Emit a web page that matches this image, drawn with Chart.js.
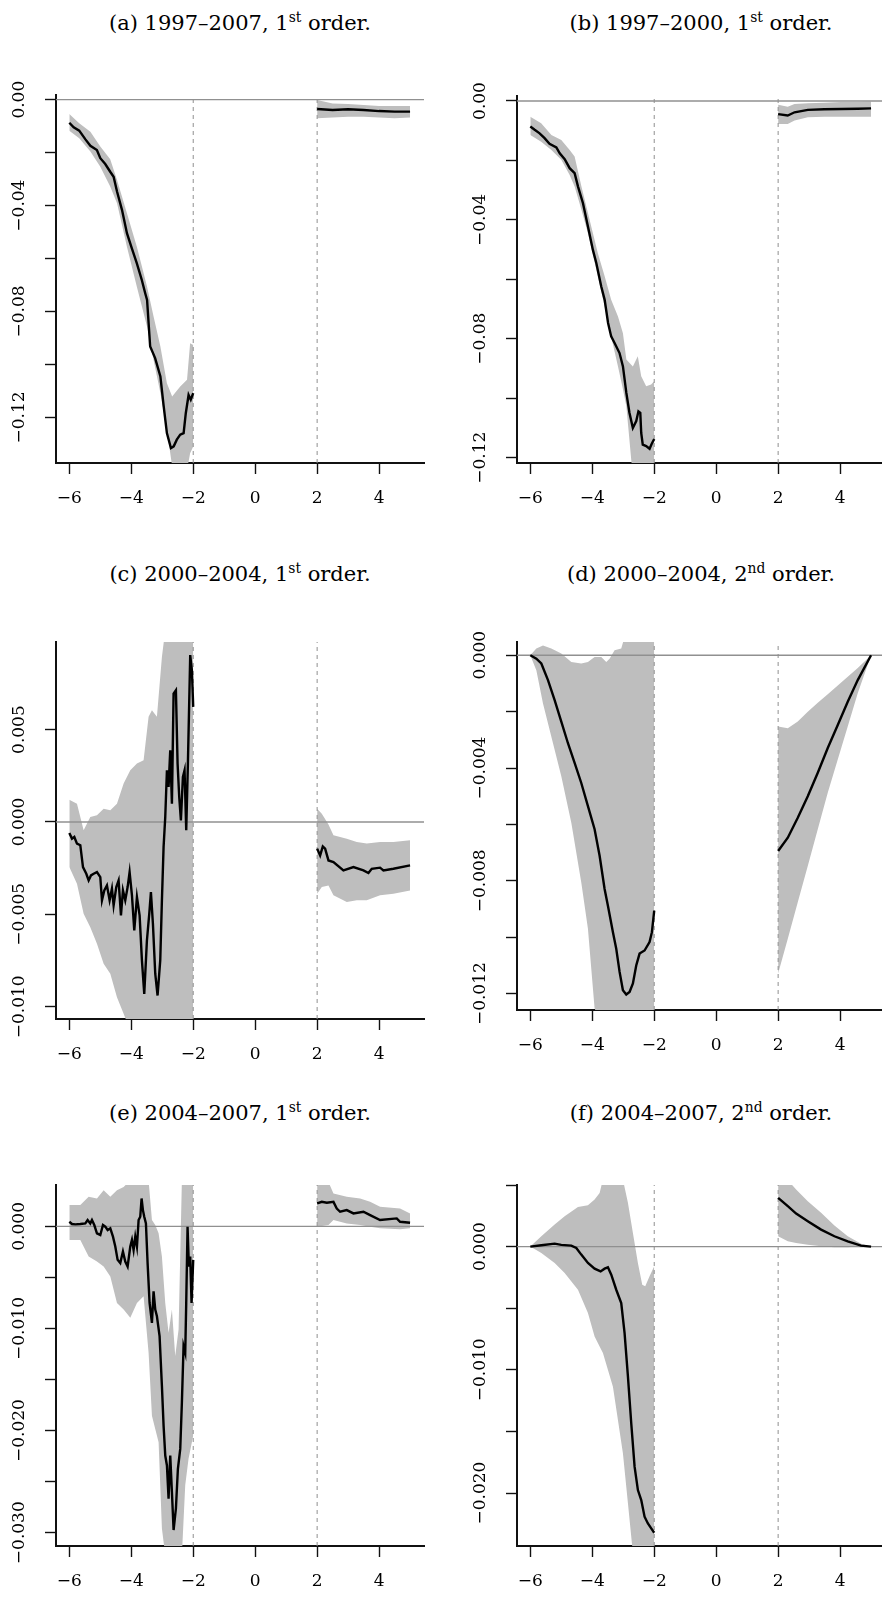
<!DOCTYPE html>
<html><head><meta charset="utf-8">
<script src="https://cdn.jsdelivr.net/npm/chart.js@4.4.1/dist/chart.umd.min.js"></script>
<style>
html,body{margin:0;padding:0;background:#fff;width:882px;height:1603px;overflow:hidden;position:relative;}
.t{position:absolute;font-family:"DejaVu Serif",serif;font-size:21px;line-height:21px;text-align:center;color:#000;white-space:nowrap;}
.t sup{font-size:0.66em;line-height:0;vertical-align:0.55em;}
canvas{position:absolute;}
</style></head><body>
<script>
// ---------- axis / tick constants ----------
const X_MIN = -6.43, X_MAX = 5.45;
const xTickVals = [-6, -4, -2, 0, 2, 4];
const cutoffs = [-2, 2];
const zeroLevel = 0;

// ---------- panel (a) 1997-2007, 1st order ----------
const aLineLx = [-6.00,-5.86,-5.68,-5.48,-5.32,-5.11,-5.00,-4.84,-4.68,-4.57,-4.46,-4.30,-4.14,-4.00,-3.82,-3.66,-3.55,-3.49,-3.39,-3.23,-3.06,-2.96,-2.85,-2.72,-2.63,-2.53,-2.42,-2.31,-2.24,-2.15,-2.08,-2.00];
const aLineLy = [-0.0087,-0.0104,-0.0117,-0.0150,-0.0174,-0.0190,-0.0221,-0.0243,-0.0272,-0.0291,-0.0347,-0.0416,-0.0504,-0.0555,-0.0618,-0.0681,-0.0731,-0.0756,-0.0932,-0.0976,-0.1045,-0.1152,-0.1259,-0.1316,-0.1309,-0.1284,-0.1265,-0.1259,-0.1184,-0.1115,-0.1133,-0.1108];
const aBandLx = [-6.00,-5.68,-5.32,-5.00,-4.68,-4.46,-4.14,-3.82,-3.49,-3.28,-3.06,-2.85,-2.68,-2.42,-2.20,-2.10,-2.00];
const aBandLup = [-0.0054,-0.0089,-0.0121,-0.0177,-0.0225,-0.0303,-0.0429,-0.0555,-0.0706,-0.0819,-0.0932,-0.1071,-0.1121,-0.1083,-0.1058,-0.0920,-0.0926];
const aBandLlo = [-0.0117,-0.0146,-0.0196,-0.0253,-0.0328,-0.0391,-0.0555,-0.0706,-0.0857,-0.0983,-0.1108,-0.1247,-0.1385,-0.1410,-0.1398,-0.1335,-0.1310];
const aLineRx = [2.0,2.5,3.0,3.5,4.0,4.5,5.0];
const aLineRy = [-0.0035,-0.0039,-0.0036,-0.0039,-0.0043,-0.0045,-0.0045];
const aBandRx = [2.0,2.5,3.0,3.5,4.0,4.5,5.0];
const aBandRup = [-0.0001,-0.0014,-0.0016,-0.0020,-0.0024,-0.0024,-0.0024];
const aBandRlo = [-0.0070,-0.0067,-0.0064,-0.0064,-0.0067,-0.0070,-0.0067];
const aYTicks = [0,-0.02,-0.04,-0.06,-0.08,-0.10,-0.12];
const aYLabels = [0,-0.04,-0.08,-0.12];

// ---------- panel (b) 1997-2000, 1st order ----------
const bLineLx = [-6.00,-5.86,-5.70,-5.54,-5.38,-5.16,-5.05,-4.89,-4.73,-4.57,-4.46,-4.30,-4.14,-3.98,-3.87,-3.71,-3.60,-3.49,-3.39,-3.28,-3.12,-3.01,-2.90,-2.80,-2.69,-2.58,-2.51,-2.45,-2.42,-2.37,-2.26,-2.15,-2.08,-2.00];
const bLineLy = [-0.0086,-0.0097,-0.0109,-0.0125,-0.0144,-0.0156,-0.0176,-0.0196,-0.0226,-0.0243,-0.0288,-0.0344,-0.0422,-0.0501,-0.0545,-0.0624,-0.0669,-0.0747,-0.0792,-0.0814,-0.0848,-0.0893,-0.0982,-0.1049,-0.1100,-0.1077,-0.1044,-0.1049,-0.1117,-0.1156,-0.1161,-0.1170,-0.1153,-0.1137];
const bBandLx = [-6.00,-5.65,-5.32,-5.00,-4.73,-4.57,-4.35,-4.14,-3.82,-3.60,-3.39,-3.17,-3.01,-2.90,-2.69,-2.53,-2.42,-2.26,-2.10,-2.00];
const bBandLup = [-0.0053,-0.0075,-0.0114,-0.0131,-0.0165,-0.0187,-0.0288,-0.0377,-0.0512,-0.0590,-0.0669,-0.0725,-0.0781,-0.0870,-0.0893,-0.0859,-0.0926,-0.0960,-0.0954,-0.0943];
const bBandLlo = [-0.0114,-0.0137,-0.0165,-0.0198,-0.0249,-0.0288,-0.0366,-0.0445,-0.0590,-0.0691,-0.0792,-0.0893,-0.0970,-0.1027,-0.1266,-0.1288,-0.1288,-0.1288,-0.1288,-0.1288];
const bLineRx = [2.00,2.31,2.53,2.96,3.49,4.03,4.57,5.00];
const bLineRy = [-0.0044,-0.0049,-0.0038,-0.0030,-0.0028,-0.0027,-0.0026,-0.0025];
const bBandRx = [2.00,2.31,2.53,2.96,3.49,4.03,4.57,5.00];
const bBandRup = [-0.0013,-0.0019,-0.0010,-0.0008,-0.0006,-0.0003,-0.0003,-0.0002];
const bBandRlo = [-0.0077,-0.0077,-0.0066,-0.0055,-0.0053,-0.0053,-0.0053,-0.0053];
const bYTicks = [0,-0.02,-0.04,-0.06,-0.08,-0.10,-0.12];
const bYLabels = [0,-0.04,-0.08,-0.12];

// ---------- panel (c) 2000-2004, 1st order ----------
const cLineLx = [-6.000,-5.914,-5.839,-5.753,-5.645,-5.559,-5.452,-5.376,-5.301,-5.215,-5.108,-5.000,-4.946,-4.871,-4.785,-4.699,-4.624,-4.570,-4.484,-4.409,-4.333,-4.269,-4.194,-4.118,-4.054,-3.978,-3.903,-3.817,-3.731,-3.656,-3.581,-3.495,-3.419,-3.366,-3.301,-3.226,-3.151,-3.065,-3.011,-2.957,-2.903,-2.849,-2.796,-2.742,-2.688,-2.634,-2.559,-2.505,-2.452,-2.398,-2.333,-2.280,-2.226,-2.172,-2.097,-2.043,-2.000];
const cLineLy = [-0.00060,-0.00090,-0.00081,-0.00117,-0.00126,-0.00244,-0.00280,-0.00316,-0.00289,-0.00280,-0.00271,-0.00298,-0.00424,-0.00370,-0.00343,-0.00424,-0.00361,-0.00451,-0.00352,-0.00316,-0.00505,-0.00370,-0.00424,-0.00352,-0.00271,-0.00397,-0.00587,-0.00406,-0.00505,-0.00749,-0.00930,-0.00641,-0.00496,-0.00379,-0.00551,-0.00821,-0.00939,-0.00749,-0.00424,-0.00135,0.00027,0.00280,0.00190,0.00388,0.00099,0.00695,0.00713,0.00316,0.00135,0.00009,0.00244,0.00280,-0.00045,0.00316,0.00903,0.00821,0.00623];
const cBandLx = [-6.000,-5.753,-5.538,-5.323,-5.108,-4.892,-4.677,-4.462,-4.247,-4.032,-3.817,-3.602,-3.441,-3.333,-3.172,-3.011,-2.903,-2.634,-2.312,-2.000];
const cBandLup = [0.00121,0.00099,-0.00045,0.00027,0.00036,0.00072,0.00063,0.00099,0.00208,0.00280,0.00316,0.00334,0.00569,0.00605,0.00569,0.00893,0.01038,0.01038,0.01038,0.01038];
const cBandLlo = [-0.00244,-0.00334,-0.00496,-0.00569,-0.00659,-0.00767,-0.00821,-0.00948,-0.01038,-0.01128,-0.01128,-0.01128,-0.01128,-0.01128,-0.01128,-0.01128,-0.01128,-0.01128,-0.01128,-0.01128];
const cLineRx = [2.000,2.097,2.183,2.258,2.366,2.527,2.849,3.172,3.495,3.656,3.763,4.032,4.140,4.462,5.000];
const cLineRy = [-0.00144,-0.00181,-0.00132,-0.00144,-0.00208,-0.00217,-0.00262,-0.00244,-0.00262,-0.00276,-0.00253,-0.00247,-0.00262,-0.00253,-0.00235];
const cBandRx = [2.000,2.151,2.366,2.527,2.957,3.280,3.602,4.032,4.462,5.000];
const cBandRup = [0.00072,0.00045,-0.00013,-0.00072,-0.00090,-0.00108,-0.00117,-0.00108,-0.00108,-0.00099];
const cBandRlo = [-0.00388,-0.00352,-0.00343,-0.00397,-0.00433,-0.00424,-0.00424,-0.00397,-0.00388,-0.00370];
const cYTicks = [0.005,0,-0.005,-0.010];
const cYLabels = [0.005,0,-0.005,-0.010];

// ---------- panel (d) 2000-2004, 2nd order ----------
const dLineLx = [-6.000,-5.806,-5.645,-5.430,-5.215,-5.000,-4.785,-4.570,-4.355,-4.140,-3.925,-3.763,-3.602,-3.495,-3.333,-3.226,-3.118,-3.011,-2.903,-2.796,-2.688,-2.581,-2.473,-2.312,-2.151,-2.075,-2.000];
const dLineLy = [0.0000,-0.00012,-0.00029,-0.00088,-0.00159,-0.00235,-0.00312,-0.00382,-0.00453,-0.00535,-0.00617,-0.00711,-0.00829,-0.00888,-0.00982,-0.01041,-0.01123,-0.01188,-0.01203,-0.01194,-0.01164,-0.01100,-0.01058,-0.01047,-0.01017,-0.00982,-0.00906];
const dBandLx = [-6.000,-5.806,-5.591,-5.323,-5.000,-4.677,-4.355,-4.140,-3.925,-3.710,-3.548,-3.441,-3.280,-3.065,-2.957,-2.634,-2.312,-2.000];
const dBandLup = [0,0.00024,0.00035,0.00024,0.00006,-0.00024,-0.00029,-0.00024,-0.00006,-0.00006,-0.00024,-0.00012,0.00018,0.00024,0.00065,0.00065,0.00065,0.00065];
const dBandLlo = [0,-0.00053,-0.00171,-0.00288,-0.00429,-0.00594,-0.00806,-0.00970,-0.01253,-0.0130,-0.0130,-0.0130,-0.0130,-0.0130,-0.0130,-0.0130,-0.0130,-0.0130];
const dLineRx = [2.000,2.312,2.634,2.957,3.280,3.602,3.925,4.247,4.570,5.000];
const dLineRy = [-0.00694,-0.00647,-0.00576,-0.00500,-0.00417,-0.00329,-0.00247,-0.00165,-0.00088,0];
const dBandRx = [2.000,2.312,2.634,2.957,3.280,3.602,3.925,4.247,4.570,5.000];
const dBandRup = [-0.00253,-0.00259,-0.00235,-0.00200,-0.00168,-0.00138,-0.00107,-0.00076,-0.00045,0];
const dBandRlo = [-0.01129,-0.01005,-0.00876,-0.00747,-0.00617,-0.00488,-0.00370,-0.00253,-0.00135,0];
const dYTicks = [0,-0.002,-0.004,-0.006,-0.008,-0.010,-0.012];
const dYLabels = [0,-0.004,-0.008,-0.012];

// ---------- panel (e) 2004-2007, 1st order ----------
const eLineLx = [-6.000,-5.914,-5.806,-5.645,-5.484,-5.409,-5.323,-5.269,-5.194,-5.108,-5.000,-4.914,-4.839,-4.763,-4.677,-4.591,-4.516,-4.441,-4.355,-4.269,-4.194,-4.118,-4.032,-3.978,-3.925,-3.871,-3.817,-3.763,-3.710,-3.667,-3.624,-3.581,-3.527,-3.473,-3.409,-3.333,-3.280,-3.226,-3.172,-3.086,-3.011,-2.957,-2.903,-2.849,-2.796,-2.742,-2.688,-2.634,-2.559,-2.495,-2.419,-2.366,-2.312,-2.258,-2.226,-2.183,-2.140,-2.097,-2.054,-2.000];
const eLineLy = [0.00045,0.00023,0.00019,0.00023,0.00029,0.00062,0.00029,0.00062,0.00013,-0.00068,-0.00084,0.00013,-0.00003,-0.00036,-0.00019,-0.00101,-0.00198,-0.00328,-0.00360,-0.00247,-0.00344,-0.00393,-0.00198,-0.00133,-0.00231,-0.00101,-0.00198,0.00062,0.00094,0.00273,0.00159,0.00094,0.00029,-0.00360,-0.00750,-0.00945,-0.00636,-0.00815,-0.00880,-0.01075,-0.01562,-0.01951,-0.02244,-0.02341,-0.02666,-0.02244,-0.02601,-0.02974,-0.02763,-0.02374,-0.02179,-0.01724,-0.01172,-0.01237,-0.00750,-0.00003,-0.00393,-0.00295,-0.00750,-0.00328];
const eBandLx = [-6.000,-5.645,-5.376,-5.108,-4.892,-4.677,-4.462,-4.247,-4.032,-3.817,-3.602,-3.441,-3.333,-3.226,-3.118,-3.011,-2.903,-2.796,-2.688,-2.581,-2.473,-2.366,-2.258,-2.151,-2.000];
const eBandLup = [0.00208,0.00208,0.00289,0.00273,0.00354,0.00289,0.00354,0.00386,0.0045,0.0045,0.0045,0.0045,0.00062,0.00013,-0.00068,-0.00295,-0.00750,-0.01042,-0.00815,-0.01270,-0.01010,0.0045,0.0045,0.0045,0.0045];
const eBandLlo = [-0.00133,-0.00133,-0.00295,-0.00344,-0.00393,-0.00490,-0.00750,-0.00815,-0.00896,-0.00750,-0.00685,-0.01237,-0.01854,-0.01984,-0.02114,-0.02958,-0.0322,-0.0322,-0.0322,-0.0322,-0.0322,-0.0322,-0.02536,-0.02276,-0.02049];
const eLineRx = [2.000,2.151,2.312,2.527,2.634,2.742,2.957,3.172,3.495,3.710,4.032,4.570,4.677,5.000];
const eLineRy = [0.00224,0.00240,0.00231,0.00240,0.00175,0.00143,0.00159,0.00127,0.00143,0.00110,0.00062,0.00078,0.00045,0.00036];
const eBandRx = [2.000,2.366,2.527,2.957,3.387,3.710,4.032,4.677,5.000];
const eBandRup = [0.00451,0.00435,0.00321,0.00289,0.00273,0.00240,0.00192,0.00175,0.00127];
const eBandRlo = [-0.00003,0.00013,0.00062,0.00029,0.00013,-0.00003,-0.00019,-0.00029,-0.00019];
const eYTicks = [0,-0.005,-0.010,-0.015,-0.020,-0.025,-0.030];
const eYLabels = [0,-0.010,-0.020,-0.030];

// ---------- panel (f) 2004-2007, 2nd order ----------
const fLineLx = [-6.000,-5.645,-5.215,-5.000,-4.677,-4.516,-4.355,-4.140,-3.925,-3.731,-3.602,-3.495,-3.387,-3.226,-3.065,-2.957,-2.849,-2.742,-2.634,-2.527,-2.419,-2.312,-2.204,-2.097,-2.000];
const fLineLy = [0,0.00011,0.00024,0.00014,0.00008,-0.00011,-0.00065,-0.00133,-0.00179,-0.00201,-0.00179,-0.00168,-0.00228,-0.00350,-0.00458,-0.00702,-0.01054,-0.01434,-0.01786,-0.01976,-0.02057,-0.02192,-0.02247,-0.02287,-0.02322];
const fBandLx = [-6.000,-5.645,-5.215,-4.892,-4.462,-4.140,-3.925,-3.763,-3.656,-3.333,-3.011,-2.849,-2.688,-2.527,-2.387,-2.290,-2.151,-2.000];
const fBandLup = [0,0.00084,0.00179,0.00247,0.00322,0.00336,0.00382,0.00436,0.00545,0.00545,0.00545,0.00355,0.00111,-0.00133,-0.00309,-0.00322,-0.00241,-0.00160];
const fBandLlo = [0,-0.00051,-0.00133,-0.00214,-0.00350,-0.00539,-0.00729,-0.00810,-0.00864,-0.01138,-0.01677,-0.02084,-0.02490,-0.02490,-0.02490,-0.02490,-0.02490,-0.02490];
const fLineRx = [2.000,2.312,2.581,2.957,3.387,3.817,4.247,4.677,5.000];
const fLineRy = [0.00396,0.00328,0.00268,0.00206,0.00138,0.00084,0.00043,0.00008,0];
const fBandRx = [2.000,2.312,2.581,2.957,3.387,3.817,4.247,4.677,5.000];
const fBandRup = [0.0054,0.0054,0.00463,0.00369,0.00274,0.00171,0.00084,0.00024,0];
const fBandRlo = [0.00084,0.00043,0.00030,0.00016,0.00003,-0.00005,-0.00005,0.00003,0];
const fYTicks = [0.005,0,-0.005,-0.010,-0.015,-0.020];
const fYLabels = [0,-0.010,-0.020];

// ---------- titles ----------
const titles = {
  a: '(a) 1997\u20132007, 1<sup>st</sup> order.',
  b: '(b) 1997\u20132000, 1<sup>st</sup> order.',
  c: '(c) 2000\u20132004, 1<sup>st</sup> order.',
  d: '(d) 2000\u20132004, 2<sup>nd</sup> order.',
  e: '(e) 2004\u20132007, 1<sup>st</sup> order.',
  f: '(f) 2004\u20132007, 2<sup>nd</sup> order.'
};

// ---------- panel layout (positions only) ----------
const panels = [
  {id:'a', col:0, top:95, bottom:463, titleY:23, yMin:-0.1372, yMax:0.00177, dec:2,
   L:[aLineLx,aLineLy], R:[aLineRx,aLineRy], BL:[aBandLx,aBandLup,aBandLlo], BR:[aBandRx,aBandRup,aBandRlo], yt:aYTicks, yl:aYLabels},
  {id:'b', col:1, top:96, bottom:463, titleY:23, yMin:-0.12179, yMax:0.00168, dec:2,
   L:[bLineLx,bLineLy], R:[bLineRx,bLineRy], BL:[bBandLx,bBandLup,bBandLlo], BR:[bBandRx,bBandRup,bBandRlo], yt:bYTicks, yl:bYLabels},
  {id:'c', col:0, top:642, bottom:1019, titleY:574, yMin:-0.01066, yMax:0.00974, dec:3,
   L:[cLineLx,cLineLy], R:[cLineRx,cLineRy], BL:[cBandLx,cBandLup,cBandLlo], BR:[cBandRx,cBandRup,cBandRlo], yt:cYTicks, yl:cYLabels},
  {id:'d', col:1, top:642, bottom:1010, titleY:574, yMin:-0.01258, yMax:0.00047, dec:3,
   L:[dLineLx,dLineLy], R:[dLineRx,dLineRy], BL:[dBandLx,dBandLup,dBandLlo], BR:[dBandRx,dBandRup,dBandRlo], yt:dYTicks, yl:dYLabels},
  {id:'e', col:0, top:1185, bottom:1546, titleY:1113, yMin:-0.0313, yMax:0.00405, dec:3,
   L:[eLineLx,eLineLy], R:[eLineRx,eLineRy], BL:[eBandLx,eBandLup,eBandLlo], BR:[eBandRx,eBandRup,eBandRlo], yt:eYTicks, yl:eYLabels},
  {id:'f', col:1, top:1185, bottom:1546, titleY:1113, yMin:-0.0243, yMax:0.005, dec:3,
   L:[fLineLx,fLineLy], R:[fLineRx,fLineRy], BL:[fBandLx,fBandLup,fBandLlo], BR:[fBandRx,fBandRup,fBandRlo], yt:fYTicks, yl:fYLabels}
];

const FONT = '17px "DejaVu Serif", serif';
const PAD_TOP = 40;
const fmt = (v, dec) => (v < 0 ? '\u2212' : '') + Math.abs(v).toFixed(dec);
const pts = (xs, ys) => xs.map((x, i) => ({x: x, y: ys[i]}));

const labelPlugin = {
  id: 'rLabels',
  afterDraw(chart) {
    const p = chart.config.options.plugins.rLabels;
    const ctx = chart.ctx, ys = chart.scales.y, xs = chart.scales.x, ca = chart.chartArea;
    ctx.save();
    ctx.fillStyle = '#000';
    ctx.font = FONT;
    ctx.textAlign = 'center';
    ctx.textBaseline = 'middle';
    xTickVals.forEach(v => {
      ctx.fillText(fmt(v, 0), xs.getPixelForValue(v), ca.bottom + 36);
    });
    p.yl.forEach(v => {
      ctx.save();
      ctx.translate(ca.left - 36, ys.getPixelForValue(v));
      ctx.rotate(-Math.PI / 2);
      ctx.fillText(fmt(v, p.dec), 0, 0);
      ctx.restore();
    });
    ctx.restore();
  }
};

panels.forEach(p => {
  const isR = p.col === 1;
  const colLeft = isR ? 441 : 0;
  const W = isR ? 444 : 441;
  const yW = isR ? 76 : 56;
  const padR = isR ? 0 : 17;
  const H = p.bottom - p.top + PAD_TOP + 60;

  const t = document.createElement('div');
  t.className = 't';
  t.style.left = (colLeft + yW) + 'px';
  t.style.width = (W - yW - padR) + 'px';
  t.style.top = (p.titleY - 10) + 'px';
  t.innerHTML = titles[p.id];
  document.body.appendChild(t);

  const cv = document.createElement('canvas');
  cv.width = W; cv.height = H;
  cv.style.left = colLeft + 'px';
  cv.style.top = (p.top - PAD_TOP) + 'px';
  cv.style.width = W + 'px'; cv.style.height = H + 'px';
  document.body.appendChild(cv);

  const lineDs = (d) => ({data: pts(d[0], d[1]), borderColor: '#000', borderWidth: 2.4, pointRadius: 0, fill: false, tension: 0});
  const refDs = (data, dash, w) => ({data: data, borderColor: '#909090', borderWidth: w, borderDash: dash, pointRadius: 0, fill: false, clip: false});
  const bandUp = (b) => ({data: pts(b[0], b[1]), borderWidth: 0, borderColor: 'rgba(0,0,0,0)', pointRadius: 0, fill: '+1', backgroundColor: '#bebebe'});
  const bandLo = (b) => ({data: pts(b[0], b[2]), borderWidth: 0, borderColor: 'rgba(0,0,0,0)', pointRadius: 0, fill: false});

  const datasets = [
    lineDs(p.L), lineDs(p.R),
    refDs([{x: X_MIN, y: zeroLevel}, {x: X_MAX, y: zeroLevel}], [], 1.3),
    refDs([{x: cutoffs[0], y: p.yMin}, {x: cutoffs[0], y: p.yMax}], [4, 4], 1),
    refDs([{x: cutoffs[1], y: p.yMin}, {x: cutoffs[1], y: p.yMax}], [4, 4], 1),
    bandUp(p.BL), bandLo(p.BL),
    bandUp(p.BR), bandLo(p.BR)
  ];

  new Chart(cv, {
    type: 'line',
    data: {datasets: datasets},
    plugins: [labelPlugin],
    options: {
      responsive: false, animation: false, events: [],
      devicePixelRatio: 1,
      layout: {padding: {top: PAD_TOP, right: padR, left: 0, bottom: 0}},
      plugins: {legend: {display: false}, tooltip: {enabled: false}, title: {display: false},
        rLabels: {yl: p.yl, dec: p.dec}},
      scales: {
        x: {type: 'linear', min: X_MIN, max: X_MAX,
          afterBuildTicks: s => { s.ticks = xTickVals.map(v => ({value: v})); },
          afterFit: s => { s.height = 60; },
          ticks: {display: false},
          grid: {display: true, drawOnChartArea: false, drawTicks: true, tickLength: 11, tickWidth: 1.4, tickColor: '#111'},
          border: {display: true, color: '#111', width: 2}},
        y: {type: 'linear', min: p.yMin, max: p.yMax,
          afterBuildTicks: s => { s.ticks = p.yt.map(v => ({value: v})); },
          afterFit: s => { s.width = yW; },
          ticks: {display: false},
          grid: {display: true, drawOnChartArea: false, drawTicks: true, tickLength: 11, tickWidth: 1.4, tickColor: '#111'},
          border: {display: true, color: '#111', width: 2}}
      }
    }
  });
});
</script>
</body></html>
